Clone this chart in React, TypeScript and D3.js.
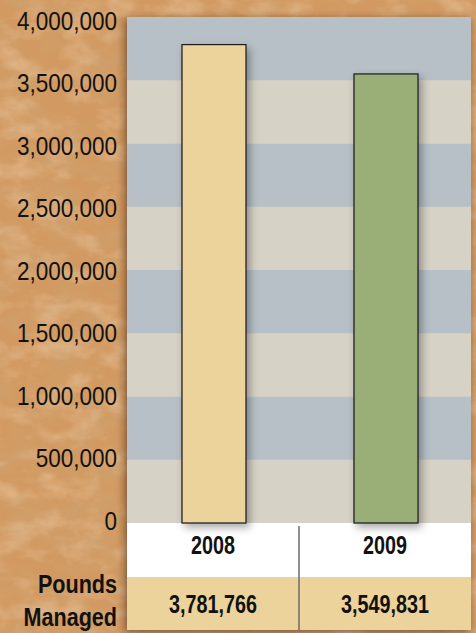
import React from "react";
import * as d3 from "d3";

const years = ["2008", "2009"];
const pounds = [3781766, 3549831];
const barColors = ["#ebd39b", "#9aae78"];
const yTicks = [0, 500000, 1000000, 1500000, 2000000, 2500000, 3000000, 3500000, 4000000];
const rowLabel = ["Pounds", "Managed"];

const W = 476, H = 633;
const left = 127, right = 471, top = 17, zeroY = 523;
const tableMid = 577, tableBottom = 630;
const FONT = "'Liberation Sans', Arial, sans-serif";

function NText({ x, y, sx, size, bold, anchor, children }: any) {
  return (
    <text transform={`translate(${x},${y}) scale(${sx},1)`} textAnchor={anchor} dominantBaseline="central"
      fontFamily={FONT} fontWeight={bold ? "bold" : "normal"} fontSize={size} fill="#111">{children}</text>
  );
}

export default function App() {
  const x = d3.scaleBand<string>().domain(years).range([left, right]).paddingInner(0).paddingOuter(0);
  const y = d3.scaleLinear().domain([0, 4000000]).range([zeroY, top]);
  const yLab = d3.scaleLinear().domain([0, 4000000]).range([521, 21]);
  const fmt = d3.format(",");
  const barW = 64;
  const bands = d3.range(yTicks.length - 1);
  return (
    <svg width={W} height={H} style={{ position: "absolute", left: 0, top: 0 }}>
      <defs>
        <filter id="dark" x="0" y="0" width="100%" height="100%">
          <feTurbulence type="fractalNoise" baseFrequency="0.025 0.04" numOctaves="4" seed="7" result="n" />
          <feColorMatrix in="n" type="matrix" values="0 0 0 0 0.6  0 0 0 0 0.38  0 0 0 0 0.18  0 0 0 1.2 -0.5" />
        </filter>
        <filter id="light" x="0" y="0" width="100%" height="100%">
          <feTurbulence type="fractalNoise" baseFrequency="0.03 0.05" numOctaves="4" seed="21" result="n" />
          <feColorMatrix in="n" type="matrix" values="0 0 0 0 0.88  0 0 0 0 0.66  0 0 0 0 0.45  0 0 0 1.0 -0.45" />
        </filter>
        <filter id="shadow" x="-30%" y="-10%" width="160%" height="130%">
          <feDropShadow dx="3" dy="4" stdDeviation="4" floodColor="#000" floodOpacity="0.35" />
        </filter>
        <filter id="panelShadow" x="-10%" y="-10%" width="120%" height="120%">
          <feDropShadow dx="-2" dy="2" stdDeviation="4" floodColor="#3a2410" floodOpacity="0.6" />
        </filter>
      </defs>
      <rect x={0} y={0} width={W} height={H} fill="#d29a62" />
      <rect x={0} y={0} width={W} height={H} fill="#000" filter="url(#dark)" />
      <rect x={0} y={0} width={W} height={H} fill="#000" filter="url(#light)" />
      <g filter="url(#panelShadow)">
        <rect x={left} y={top} width={right - left} height={tableBottom - top} fill="#d6d2c6" />
      </g>
      {bands.map((i) => (
        <rect key={i} x={left} y={y(yTicks[i + 1])} width={right - left}
          height={y(yTicks[i]) - y(yTicks[i + 1])} fill={i % 2 === 0 ? "#d6d2c6" : "#b7c0c6"} />
      ))}
      <rect x={left} y={zeroY} width={right - left} height={tableMid - zeroY} fill="#ffffff" />
      <rect x={left} y={tableMid} width={right - left} height={tableBottom - tableMid} fill="#ebd39b" />
      <line x1={x("2009")!} x2={x("2009")!} y1={zeroY + 3} y2={tableBottom} stroke="#6b6b6b" strokeWidth={1.5} />
      {years.map((yr, i) => {
        const cx = x(yr)! + x.bandwidth() / 2 + 1;
        return (
          <g key={yr}>
            <rect x={cx - barW / 2} y={y(pounds[i])} width={barW} height={zeroY - y(pounds[i])}
              fill={barColors[i]} stroke="#1a1a1a" strokeWidth={1.2} filter="url(#shadow)" />
            <NText x={cx - 1} y={545} sx={0.76} size={26} bold anchor="middle">{yr}</NText>
            <NText x={cx - 1} y={604} sx={0.76} size={26} bold anchor="middle">{fmt(pounds[i])}</NText>
          </g>
        );
      })}
      {yTicks.map((t) => (
        <NText key={t} x={117} y={yLab(t)} sx={0.9} size={25} anchor="end">{fmt(t)}</NText>
      ))}
      {rowLabel.map((s, i) => (
        <NText key={s} x={117} y={584 + i * 33} sx={0.83} size={26} bold anchor="end">{s}</NText>
      ))}
    </svg>
  );
}
